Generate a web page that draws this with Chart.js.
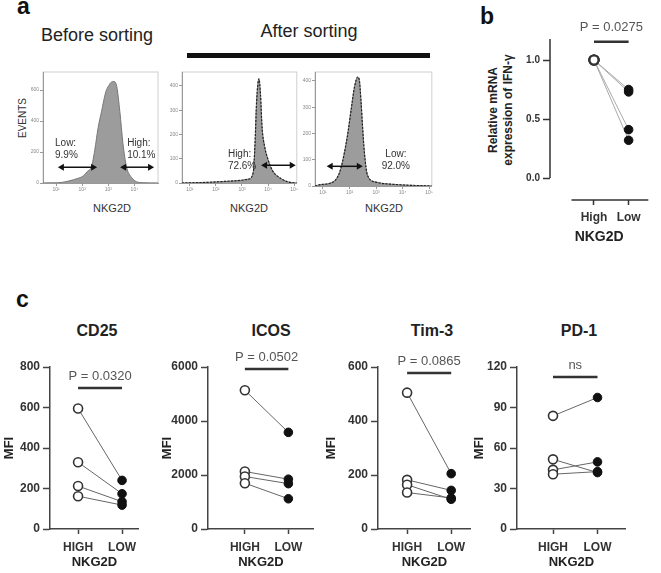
<!DOCTYPE html>
<html>
<head>
<meta charset="utf-8">
<script src="https://cdn.jsdelivr.net/npm/chart.js@4.4.1/dist/chart.umd.min.js"></script>
<style>
  html, body { margin: 0; padding: 0; background: #fff; }
  #fig { position: relative; width: 661px; height: 573px; overflow: hidden; font-family: 'Liberation Sans', Arial, sans-serif; color: #222; }
  #fig canvas { position: absolute; }
  .txt { position: absolute; white-space: nowrap; line-height: 1; transform: translate(-50%, -50%); }
  .letter { position: absolute; font-weight: bold; font-size: 23px; line-height: 23px; color: #111; }
</style>
</head>
<body>
<div id="fig">
  <div class="letter" style="left:17px;top:-5px">a</div>
  <div class="letter" style="left:480px;top:5px">b</div>
  <div class="letter" style="left:16px;top:288px">c</div>

  <div class="txt" style="left:97px;top:35px;font-size:18px">Before sorting</div>
  <div class="txt" style="left:309px;top:31px;font-size:18px">After sorting</div>
  <div style="position:absolute;left:187px;top:53px;width:243px;height:5px;background:#111"></div>
  <div class="txt" style="left:23px;top:118px;font-size:10px;color:#333;transform:translate(-50%,-50%) rotate(-90deg)">EVENTS</div>
  <div class="txt" style="left:112px;top:208px;font-size:11px;color:#333">NKG2D</div>
  <div class="txt" style="left:249px;top:208px;font-size:11px;color:#333">NKG2D</div>
  <div class="txt" style="left:384px;top:208px;font-size:11px;color:#333">NKG2D</div>

  <div class="txt" style="left:500px;top:110px;font-size:12px;font-weight:bold;line-height:14.5px;text-align:center;transform:translate(-50%,-50%) rotate(-90deg)">Relative mRNA<br>expression of IFN-γ</div>

  <div class="txt" style="left:97px;top:331px;font-size:16px;font-weight:bold">CD25</div>
  <div class="txt" style="left:271px;top:331px;font-size:16px;font-weight:bold">ICOS</div>
  <div class="txt" style="left:432px;top:331px;font-size:16px;font-weight:bold">Tim-3</div>
  <div class="txt" style="left:579px;top:331px;font-size:16px;font-weight:bold">PD-1</div>
</div>
<script>
Chart.defaults.font.family = "'Liberation Sans', Arial, sans-serif";
Chart.defaults.color = '#333';
Chart.defaults.animation = false;
Chart.defaults.plugins.legend.display = false;
Chart.defaults.plugins.tooltip.enabled = false;

// flow histograms (x in decades of NKG2D, y = events)
const decadeTicks = [1, 2, 3, 4, 5];
const decadeLabels = ['10¹', '10²', '10³', '10⁴', '10⁵'];

const beforeX = [0.5, 0.96, 1.23, 1.53, 1.8, 2.04, 2.2, 2.36, 2.48, 2.61, 2.74, 2.9, 3.02, 3.12, 3.22, 3.32, 3.44, 3.56, 3.69, 3.89, 4.08, 4.3, 4.9];
const beforeY = [0, 1, 4, 15, 28, 46, 75, 108, 212, 358, 462, 587, 630, 652, 655, 625, 462, 254, 108, 35, 8, 2, 0];

const highSortX = [0.7, 1.75, 2.75, 3.25, 3.43, 3.5, 3.56, 3.65, 3.71, 3.77, 3.87, 4.0, 4.18, 4.43, 4.75, 5.1];
const highSortY = [0, 3, 9, 16, 43, 163, 336, 429, 363, 229, 149, 96, 49, 23, 5, 0];

const lowSortX = [0.7, 0.89, 1.38, 1.63, 1.81, 1.94, 2.06, 2.19, 2.31, 2.37, 2.43, 2.49, 2.56, 2.68, 2.99, 3.85, 5.1];
const lowSortY = [0, 5, 15, 53, 128, 203, 290, 378, 415, 403, 328, 228, 128, 40, 15, 5, 0];

// panel b
const ifngGroups = ['High', 'Low'];
const ifngHigh = [1, 1, 1, 1];
const ifngLow = [0.75, 0.73, 0.41, 0.32];

// panel c
const mfiGroups = ['HIGH', 'LOW'];
const cd25High = [595, 330, 212, 162];
const cd25Low = [240, 174, 135, 118];
const icosHigh = [5140, 2128, 1943, 1697];
const icosLow = [3580, 1845, 1680, 1120];
const tim3High = [505, 182, 164, 135];
const tim3Low = [205, 143, 110, 115];
const pd1High = [83.8, 51.6, 43.8, 40.6];
const pd1Low = [97.4, 41.8, 49.7, 42.5];

function place(left, top, width, height) {
  const c = document.createElement('canvas');
  c.width = width;
  c.height = height;
  c.style.left = left + 'px';
  c.style.top = top + 'px';
  document.getElementById('fig').appendChild(c);
  return c;
}

function stepTicks(max, step) {
  const out = [];
  for (let v = 0; v <= max + 1e-9; v += step) out.push({ value: v });
  return out;
}

function histMarks(arrows, notes) {
  return {
    id: 'histMarks',
    beforeDraw(chart) {
      const { ctx, chartArea: a } = chart;
      ctx.save();
      ctx.strokeStyle = '#cfcfcf';
      ctx.lineWidth = 1;
      ctx.strokeRect(a.left, a.top, a.right - a.left, a.bottom - a.top);
      ctx.restore();
    },
    afterDraw(chart) {
      const { ctx, scales: { x, y } } = chart;
      ctx.save();
      ctx.strokeStyle = '#111';
      ctx.fillStyle = '#111';
      ctx.lineWidth = 1.5;
      arrows.forEach(([x1, x2, v]) => {
        const p1 = x.getPixelForValue(x1), p2 = x.getPixelForValue(x2), py = y.getPixelForValue(v);
        ctx.beginPath();
        ctx.moveTo(p1 + 4, py);
        ctx.lineTo(p2 - 4, py);
        ctx.stroke();
        [[p1, 1], [p2, -1]].forEach(([px, d]) => {
          ctx.beginPath();
          ctx.moveTo(px, py);
          ctx.lineTo(px + 6 * d, py - 3.5);
          ctx.lineTo(px + 6 * d, py + 3.5);
          ctx.closePath();
          ctx.fill();
        });
      });
      ctx.font = '10px "Liberation Sans", Arial, sans-serif';
      ctx.fillStyle = '#333';
      ctx.textAlign = 'left';
      ctx.textBaseline = 'middle';
      notes.forEach(([nx, ny, t]) => ctx.fillText(t, x.getPixelForValue(nx), y.getPixelForValue(ny)));
      ctx.restore();
    }
  };
}

function histogram(canvas, xs, ys, xRange, yMax, yStep, dashed, arrows, notes) {
  const pts = xs.map((x, i) => ({ x: x, y: ys[i] }));
  const sets = [{
    data: pts,
    fill: 'origin',
    backgroundColor: '#9c9c9c',
    borderColor: '#777',
    borderWidth: 1,
    pointRadius: 0,
    cubicInterpolationMode: 'monotone'
  }];
  if (dashed) {
    sets.unshift({
      data: pts,
      fill: false,
      borderColor: '#222',
      borderWidth: 1.2,
      borderDash: [2, 1.5],
      pointRadius: 0,
      cubicInterpolationMode: 'monotone'
    });
  }
  new Chart(canvas, {
    type: 'line',
    data: { datasets: sets },
    options: {
      responsive: false,
      layout: { padding: { top: 2, right: 1, left: 0, bottom: 0 } },
      scales: {
        x: {
          type: 'linear', min: xRange[0], max: xRange[1],
          afterBuildTicks: s => { s.ticks = decadeTicks.filter(v => v >= xRange[0] && v <= xRange[1]).map(v => ({ value: v })); },
          ticks: { callback: v => decadeLabels[v - 1], font: { size: 5 }, color: '#888', padding: 1, maxRotation: 0, autoSkip: false },
          grid: { drawOnChartArea: false, tickLength: 3, tickColor: '#999' },
          border: { color: '#999', width: 1 },
          afterFit: s => { s.height = 12; }
        },
        y: {
          min: 0, max: yMax,
          afterBuildTicks: s => { s.ticks = stepTicks(yMax, yStep); },
          ticks: { callback: v => String(v), font: { size: 5 }, color: '#888', padding: 1 },
          grid: { drawOnChartArea: false, tickLength: 3, tickColor: '#999' },
          border: { color: '#999', width: 1 },
          afterFit: s => { s.width = 15; }
        }
      }
    },
    plugins: [histMarks(arrows, notes)]
  });
}

function sigBar(level, text, gap) {
  return {
    id: 'sigBar',
    afterDatasetsDraw(chart) {
      const { ctx, scales: { x, y } } = chart;
      const x1 = x.getPixelForValue(1), x2 = x.getPixelForValue(2), py = y.getPixelForValue(level);
      ctx.save();
      ctx.strokeStyle = '#333';
      ctx.lineWidth = 2.5;
      ctx.beginPath();
      ctx.moveTo(x1, py);
      ctx.lineTo(x2, py);
      ctx.stroke();
      ctx.fillStyle = '#555';
      ctx.font = '13px "Liberation Sans", Arial, sans-serif';
      ctx.textAlign = 'center';
      ctx.textBaseline = 'middle';
      ctx.fillText(text, (x1 + x2) / 2, py - gap);
      ctx.restore();
    }
  };
}

function pairedSets(high, low, lineColor, openWidth) {
  const sets = high.map((h, i) => ({
    data: [{ x: 1, y: h }, { x: 2, y: low[i] }],
    borderColor: lineColor, borderWidth: 1, pointRadius: 0, order: 2
  }));
  sets.push({
    data: high.map(v => ({ x: 1, y: v })), showLine: false, order: 1,
    pointRadius: 4.5, pointBorderWidth: openWidth, pointBorderColor: '#333', pointBackgroundColor: '#fff'
  });
  sets.push({
    data: low.map(v => ({ x: 2, y: v })), showLine: false, order: 1,
    pointRadius: 4.3, pointBorderWidth: 1, pointBorderColor: '#111', pointBackgroundColor: '#111'
  });
  return sets;
}

function mfiChart(left, axisX, right, yMax, yStep, xMin, xMax, high, low, level, text) {
  const canvas = place(left, 340, right - left, 233);
  new Chart(canvas, {
    type: 'line',
    data: { datasets: pairedSets(high, low, '#666', 1.6) },
    options: {
      responsive: false,
      layout: { padding: { top: 27, right: 0, left: 0, bottom: 0 } },
      scales: {
        x: {
          type: 'linear', min: xMin, max: xMax,
          afterBuildTicks: s => { s.ticks = [1, 2].map(v => ({ value: v })); },
          ticks: { callback: v => mfiGroups[v - 1], font: { size: 12, weight: 'bold' }, color: '#333', padding: 6, maxRotation: 0, autoSkip: false },
          grid: { drawOnChartArea: false, tickLength: 5, tickWidth: 1.5, tickColor: '#444' },
          border: { color: '#444', width: 1.5 },
          title: { display: true, text: 'NKG2D', font: { size: 13, weight: 'bold' }, color: '#222', padding: { top: 0, bottom: 3 } },
          afterFit: s => { s.height = 44; }
        },
        y: {
          min: 0, max: yMax,
          afterBuildTicks: s => { s.ticks = stepTicks(yMax, yStep); },
          ticks: { callback: v => String(v), font: { size: 12, weight: 'bold' }, color: '#333', padding: 3 },
          grid: { drawOnChartArea: false, tickLength: 7, tickWidth: 1.5, tickColor: '#444' },
          border: { color: '#444', width: 1.5 },
          title: { display: true, text: 'MFI', font: { size: 13, weight: 'bold' }, color: '#222', padding: { top: 2, bottom: 0 } },
          afterFit: s => { s.width = axisX - left; }
        }
      }
    },
    plugins: [sigBar(level, text, 12)]
  });
}

// panel a
histogram(place(28, 68, 131, 127), beforeX, beforeY, [0.5, 4.9], 717, 200, false,
  [[1.07, 2.57, 102], [3.45, 4.75, 102]],
  [[0.96, 254, 'Low:'], [0.96, 178, '9.9%'], [3.72, 254, 'High:'], [3.72, 178, '10.1%']]);
histogram(place(167, 68, 132, 127), highSortX, highSortY, [0.7, 5.1], 457, 100, true,
  [[3.73, 5.06, 73]],
  [[2.46, 117, 'High:'], [2.46, 69, '72.6%']]);
histogram(place(300, 68, 134, 130), lowSortX, lowSortY, [0.7, 5.1], 434, 100, true,
  [[1.14, 2.5, 75]],
  [[3.35, 120, 'Low:'], [3.21, 75, '92.0%']]);

// panel b
const bAxes = {
  id: 'bAxes',
  afterDraw(chart) {
    const { ctx, chartArea: a, scales: { x, y } } = chart;
    ctx.save();
    ctx.strokeStyle = '#333';
    ctx.lineWidth = 1.5;
    ctx.beginPath();
    ctx.moveTo(a.left, y.getPixelForValue(0));
    ctx.lineTo(a.left, a.top);
    ctx.moveTo(x.getPixelForValue(0.35), a.bottom);
    ctx.lineTo(a.right, a.bottom);
    ctx.stroke();
    ctx.restore();
  }
};
new Chart(place(482, 10, 173, 238), {
  type: 'line',
  data: { datasets: pairedSets(ifngHigh, ifngLow, '#aaa', 2.2) },
  options: {
    responsive: false,
    layout: { padding: { top: 29, right: 0, left: 0, bottom: 0 } },
    scales: {
      x: {
        type: 'linear', min: -0.27, max: 2.568,
        afterBuildTicks: s => { s.ticks = [1, 2].map(v => ({ value: v })); },
        ticks: { callback: v => ifngGroups[v - 1], font: { size: 12, weight: 'bold' }, color: '#333', padding: 5, maxRotation: 0, autoSkip: false },
        grid: { drawOnChartArea: false, tickLength: 5, tickWidth: 1.5, tickColor: '#333' },
        border: { display: false },
        title: { display: true, text: 'NKG2D', font: { size: 14, weight: 'bold' }, color: '#222', padding: { top: 0, bottom: 2 } },
        afterFit: s => { s.height = 48; }
      },
      y: {
        min: -0.186, max: 1.178,
        afterBuildTicks: s => { s.ticks = [0, 0.5, 1].map(v => ({ value: v })); },
        ticks: { callback: v => v.toFixed(1), font: { size: 10, weight: 'bold' }, color: '#333', padding: 3 },
        grid: { drawOnChartArea: false, tickLength: 7, tickWidth: 1.5, tickColor: '#333' },
        border: { display: false },
        afterFit: s => { s.width = 68; }
      }
    }
  },
  plugins: [bAxes, sigBar(1.155, 'P = 0.0275', 14)]
});

// panel c
mfiChart(0, 50, 145, 800, 200, 0.362, 2.383, cd25High, cd25Low, 696, 'P = 0.0320');
mfiChart(158, 208, 320, 6000, 2000, 0.152, 2.587, icosHigh, icosLow, 5926, 'P = 0.0502');
mfiChart(322, 378, 477, 600, 200, 0.34, 2.447, tim3High, tim3Low, 578, 'P = 0.0865');
mfiChart(470, 517, 632, 120, 30, 0.191, 2.638, pd1High, pd1Low, 112.6, 'ns');
</script>
</body>
</html>
